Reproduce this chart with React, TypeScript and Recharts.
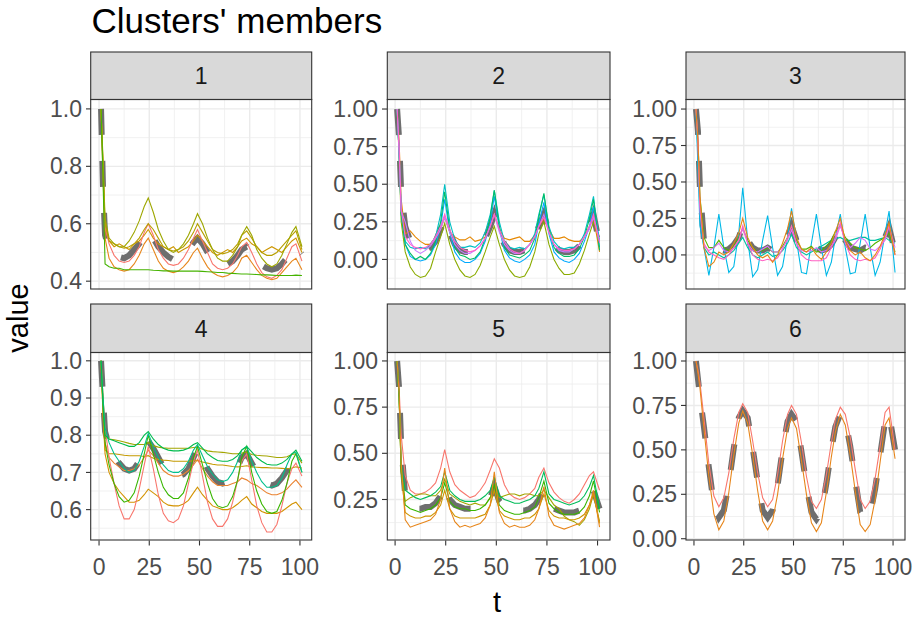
import { LineChart, Line, XAxis, YAxis, CartesianGrid } from 'recharts'

// time points shared by every series
const T = [
  1, 2, 3, 5, 7.5, 10,
  12.5, 15, 17.5, 20, 22.5, 24.5, 27, 29.5, 32, 34.5,
  37, 39.5, 42, 44.5, 47, 49, 51.5, 54, 56.5, 59,
  61.5, 64, 66.5, 69, 71, 73.5, 76, 78.5, 81, 83.5,
  86, 88.5, 91, 93.5, 96, 98, 101,
]

const X_TICKS = [0, 25, 50, 75, 100]
const X_MINOR = [12.5, 37.5, 62.5, 87.5]

// ---- cluster 1
const p1Center = [1.0, 0.72, 0.56, 0.51, 0.49, 0.485, 0.48, 0.49, 0.51, 0.53, 0.56, 0.575, 0.55, 0.52, 0.5, 0.485, 0.475, 0.48, 0.49, 0.51, 0.535, 0.55, 0.53, 0.5, 0.475, 0.46, 0.455, 0.46, 0.47, 0.49, 0.51, 0.52, 0.5, 0.475, 0.455, 0.445, 0.44, 0.445, 0.46, 0.48, 0.51, 0.52, 0.495]
const p1Green = [1.0, 0.75, 0.46, 0.45, 0.445, 0.445, 0.44, 0.44, 0.44, 0.44, 0.44, 0.44, 0.438, 0.437, 0.436, 0.436, 0.435, 0.435, 0.435, 0.435, 0.435, 0.435, 0.434, 0.433, 0.432, 0.43, 0.43, 0.428, 0.427, 0.426, 0.425, 0.425, 0.424, 0.423, 0.422, 0.422, 0.421, 0.42, 0.42, 0.42, 0.42, 0.421, 0.42]
const p1OliveHigh = [1.0, 0.82, 0.62, 0.55, 0.53, 0.52, 0.52, 0.54, 0.57, 0.61, 0.66, 0.69, 0.64, 0.58, 0.54, 0.51, 0.5, 0.51, 0.53, 0.56, 0.6, 0.635, 0.6, 0.55, 0.51, 0.48, 0.47, 0.47, 0.49, 0.52, 0.56, 0.59, 0.56, 0.51, 0.48, 0.46, 0.45, 0.46, 0.49, 0.53, 0.57, 0.59, 0.52]
const p1Olive = [1.0, 0.8, 0.6, 0.54, 0.53, 0.52, 0.515, 0.52, 0.53, 0.55, 0.58, 0.6, 0.58, 0.55, 0.52, 0.51, 0.505, 0.51, 0.52, 0.54, 0.57, 0.6, 0.57, 0.54, 0.51, 0.5, 0.495, 0.5, 0.51, 0.53, 0.56, 0.575, 0.55, 0.52, 0.5, 0.49, 0.49, 0.5, 0.52, 0.54, 0.56, 0.575, 0.51]
const p1Red = [1.0, 0.78, 0.59, 0.53, 0.49, 0.47, 0.465, 0.47, 0.49, 0.52, 0.57, 0.6, 0.56, 0.51, 0.48, 0.46, 0.455, 0.46, 0.48, 0.51, 0.55, 0.58, 0.54, 0.5, 0.46, 0.445, 0.44, 0.445, 0.46, 0.49, 0.52, 0.535, 0.5, 0.46, 0.43, 0.415, 0.41, 0.42, 0.44, 0.48, 0.52, 0.53, 0.47]
const p1Orange = [1.0, 0.76, 0.55, 0.48, 0.45, 0.44, 0.435, 0.44, 0.46, 0.49, 0.53, 0.55, 0.51, 0.47, 0.445, 0.435, 0.43, 0.435, 0.45, 0.47, 0.5, 0.515, 0.48, 0.45, 0.43, 0.42, 0.415, 0.42, 0.43, 0.45, 0.48, 0.49, 0.465, 0.44, 0.42, 0.41, 0.405, 0.41, 0.43, 0.45, 0.47, 0.48, 0.44]
const p1Gold = [1.0, 0.8, 0.58, 0.54, 0.52, 0.53, 0.52, 0.51, 0.53, 0.54, 0.56, 0.58, 0.55, 0.53, 0.52, 0.51, 0.52, 0.5, 0.51, 0.52, 0.54, 0.56, 0.54, 0.52, 0.5, 0.49, 0.5, 0.51, 0.5, 0.52, 0.54, 0.55, 0.53, 0.52, 0.5, 0.51, 0.52, 0.51, 0.5, 0.52, 0.54, 0.55, 0.5]

// ---- cluster 2
const p2Center = [1.0, 0.8, 0.45, 0.22, 0.12, 0.08, 0.06, 0.06, 0.08, 0.12, 0.2, 0.27, 0.18, 0.1, 0.06, 0.05, 0.05, 0.06, 0.09, 0.14, 0.22, 0.3, 0.18, 0.1, 0.06, 0.05, 0.05, 0.06, 0.09, 0.14, 0.22, 0.3, 0.18, 0.1, 0.06, 0.05, 0.05, 0.06, 0.09, 0.14, 0.22, 0.3, 0.1]
const p2Teal = [1.0, 0.7, 0.3, 0.12, 0.08, 0.07, 0.08, 0.07, 0.1, 0.15, 0.3, 0.5, 0.25, 0.13, 0.08, 0.08, 0.09, 0.08, 0.11, 0.18, 0.3, 0.46, 0.25, 0.12, 0.08, 0.07, 0.08, 0.07, 0.1, 0.17, 0.3, 0.43, 0.22, 0.12, 0.08, 0.07, 0.08, 0.08, 0.1, 0.17, 0.3, 0.42, 0.08]
const p2Blue = [1.0, 0.72, 0.35, 0.1, 0.02, 0.0, -0.01, 0.0, 0.03, 0.1, 0.22, 0.4, 0.18, 0.05, 0.0, -0.02, -0.02, 0.0, 0.04, 0.12, 0.24, 0.42, 0.2, 0.06, 0.01, -0.01, -0.02, 0.0, 0.03, 0.1, 0.24, 0.38, 0.17, 0.05, 0.01, -0.01, -0.02, 0.0, 0.04, 0.12, 0.22, 0.35, 0.13]
const p2Olive = [1.0, 0.68, 0.25, 0.05, -0.05, -0.1, -0.12, -0.11, -0.06, 0.05, 0.15, 0.24, 0.1, 0.0, -0.07, -0.11, -0.12, -0.1, -0.04, 0.05, 0.15, 0.22, 0.1, 0.0, -0.07, -0.11, -0.12, -0.11, -0.05, 0.05, 0.17, 0.25, 0.1, 0.0, -0.06, -0.1, -0.1, -0.09, -0.03, 0.06, 0.17, 0.25, 0.15]
const p2Orange = [1.0, 0.78, 0.4, 0.17, 0.19, 0.15, 0.12, 0.1, 0.1, 0.14, 0.2, 0.28, 0.18, 0.15, 0.13, 0.13, 0.15, 0.12, 0.13, 0.15, 0.22, 0.3, 0.2, 0.14, 0.13, 0.14, 0.15, 0.12, 0.12, 0.16, 0.22, 0.27, 0.2, 0.14, 0.14, 0.15, 0.13, 0.12, 0.12, 0.15, 0.22, 0.28, 0.05]
const p2Green = [1.0, 0.7, 0.3, 0.1, 0.04, 0.0, 0.02, 0.0, 0.04, 0.12, 0.25, 0.45, 0.2, 0.08, 0.03, 0.02, 0.0, 0.01, 0.05, 0.14, 0.28, 0.46, 0.22, 0.08, 0.03, 0.02, 0.01, 0.03, 0.06, 0.14, 0.28, 0.44, 0.2, 0.08, 0.04, 0.02, 0.02, 0.03, 0.07, 0.15, 0.27, 0.4, 0.06]
const p2Violet = [1.0, 0.7, 0.32, 0.25, 0.12, 0.06, 0.04, 0.06, 0.09, 0.14, 0.2, 0.28, 0.18, 0.1, 0.06, 0.04, 0.04, 0.06, 0.09, 0.14, 0.22, 0.3, 0.18, 0.1, 0.06, 0.04, 0.04, 0.06, 0.1, 0.15, 0.22, 0.3, 0.18, 0.1, 0.06, 0.05, 0.05, 0.07, 0.1, 0.15, 0.2, 0.28, 0.12]
const p2Pink = [1.0, 0.75, 0.33, 0.15, 0.1, 0.08, 0.07, 0.08, 0.1, 0.15, 0.22, 0.3, 0.2, 0.12, 0.08, 0.06, 0.05, 0.06, 0.09, 0.14, 0.22, 0.3, 0.2, 0.12, 0.07, 0.05, 0.04, 0.06, 0.1, 0.15, 0.22, 0.28, 0.18, 0.1, 0.07, 0.06, 0.06, 0.07, 0.1, 0.15, 0.22, 0.3, 0.11]

// ---- cluster 3
const p3Center = [1.0, 0.85, 0.45, 0.1, 0.05, 0.03, 0.04, 0.03, 0.04, 0.07, 0.12, 0.2, 0.1, 0.05, 0.03, 0.03, 0.05, 0.03, 0.03, 0.07, 0.12, 0.2, 0.1, 0.05, 0.03, 0.03, 0.05, 0.03, 0.04, 0.07, 0.12, 0.2, 0.1, 0.05, 0.04, 0.03, 0.05, 0.04, 0.04, 0.07, 0.12, 0.19, 0.02]
const p3Cyan = [1.0, 0.6, 0.2, 0.05, -0.14, 0.05, 0.28, 0.05, -0.12, -0.08, 0.15, 0.46, 0.1, -0.15, -0.1, 0.1, 0.27, 0.05, -0.14, -0.08, 0.12, 0.32, 0.1, -0.12, -0.13, 0.08, 0.28, 0.05, -0.14, -0.05, 0.12, 0.28, 0.05, -0.13, -0.12, 0.08, 0.28, 0.05, -0.14, -0.05, 0.15, 0.3, -0.12]
const p3Teal = [1.0, 0.7, 0.3, 0.05, 0.0, 0.02, 0.0, -0.02, 0.0, 0.03, 0.08, 0.12, 0.05, 0.0, -0.02, 0.0, 0.02, -0.01, 0.0, 0.03, 0.08, 0.14, 0.05, 0.02, 0.0, 0.02, 0.04, 0.06, 0.08, 0.1, 0.11, 0.12, 0.1, 0.1, 0.11, 0.12, 0.12, 0.1, 0.1, 0.11, 0.12, 0.1, 0.08]
const p3Green = [1.0, 0.8, 0.4, 0.12, 0.05, 0.05, 0.1, 0.05, 0.03, 0.06, 0.12, 0.18, 0.1, 0.05, 0.02, 0.03, 0.05, 0.02, 0.02, 0.06, 0.12, 0.2, 0.1, 0.04, 0.04, 0.06, 0.02, 0.03, 0.06, 0.1, 0.16, 0.2, 0.12, 0.08, 0.05, 0.04, 0.03, 0.05, 0.08, 0.1, 0.12, 0.15, 0.02]
const p3Violet = [1.0, 0.75, 0.3, 0.06, 0.03, 0.05, 0.08, 0.03, 0.02, 0.05, 0.1, 0.18, 0.08, 0.03, 0.02, 0.04, 0.06, 0.02, 0.02, 0.05, 0.1, 0.17, 0.08, 0.03, 0.02, 0.03, 0.05, 0.02, 0.03, 0.06, 0.1, 0.2, 0.1, 0.05, 0.08, 0.12, 0.1, 0.04, 0.03, 0.06, 0.1, 0.2, 0.05]
const p3Pink = [1.0, 0.8, 0.35, 0.08, 0.02, 0.0, -0.02, -0.03, 0.0, 0.05, 0.1, 0.2, 0.08, 0.0, -0.03, -0.04, -0.03, -0.04, -0.02, 0.04, 0.12, 0.2, 0.08, 0.0, -0.03, -0.04, -0.04, -0.04, -0.02, 0.05, 0.12, 0.22, 0.08, 0.0, -0.03, -0.04, -0.03, -0.04, -0.02, 0.04, 0.12, 0.2, 0.0]
const p3Orange = [1.0, 0.78, 0.4, 0.05, -0.08, -0.05, 0.02, 0.0, 0.02, 0.08, 0.15, 0.25, 0.12, 0.05, 0.0, -0.02, 0.0, -0.05, 0.0, 0.08, 0.18, 0.3, 0.12, 0.04, 0.02, 0.05, 0.0, -0.03, 0.02, 0.08, 0.16, 0.25, 0.1, 0.03, 0.0, 0.02, -0.02, -0.04, 0.0, 0.06, 0.14, 0.22, 0.0]

// ---- cluster 4
const p4Center = [1.0, 0.9, 0.81, 0.77, 0.745, 0.725, 0.71, 0.705, 0.71, 0.73, 0.76, 0.785, 0.765, 0.74, 0.715, 0.7, 0.69, 0.69, 0.695, 0.71, 0.74, 0.765, 0.74, 0.71, 0.69, 0.675, 0.67, 0.675, 0.69, 0.715, 0.74, 0.75, 0.725, 0.7, 0.68, 0.67, 0.665, 0.67, 0.685, 0.705, 0.73, 0.74, 0.72]
const p4Olive = [1.0, 0.9, 0.8, 0.79, 0.788, 0.785, 0.782, 0.778, 0.775, 0.775, 0.775, 0.78, 0.772, 0.768, 0.766, 0.765, 0.765, 0.765, 0.765, 0.765, 0.767, 0.768, 0.762, 0.758, 0.756, 0.755, 0.754, 0.752, 0.75, 0.75, 0.752, 0.755, 0.748, 0.746, 0.745, 0.744, 0.742, 0.74, 0.74, 0.742, 0.748, 0.75, 0.725]
const p4GoldFlat = [1.0, 0.86, 0.76, 0.75, 0.75, 0.748, 0.746, 0.745, 0.745, 0.745, 0.743, 0.745, 0.738, 0.735, 0.733, 0.732, 0.73, 0.73, 0.73, 0.73, 0.731, 0.732, 0.728, 0.725, 0.722, 0.72, 0.72, 0.718, 0.716, 0.715, 0.716, 0.718, 0.715, 0.714, 0.713, 0.713, 0.712, 0.712, 0.711, 0.71, 0.712, 0.715, 0.712]
const p4GoldLow = [1.0, 0.85, 0.75, 0.7, 0.67, 0.65, 0.635, 0.62, 0.62, 0.625, 0.64, 0.655, 0.645, 0.635, 0.62, 0.612, 0.61, 0.61, 0.615, 0.625, 0.645, 0.66, 0.64, 0.625, 0.61, 0.605, 0.6, 0.6, 0.605, 0.615, 0.625, 0.635, 0.615, 0.605, 0.595, 0.59, 0.59, 0.59, 0.595, 0.605, 0.615, 0.62, 0.6]
const p4Orange = [1.0, 0.88, 0.78, 0.74, 0.725, 0.715, 0.705, 0.705, 0.71, 0.72, 0.74, 0.76, 0.745, 0.725, 0.705, 0.695, 0.69, 0.69, 0.695, 0.705, 0.72, 0.735, 0.71, 0.69, 0.675, 0.665, 0.665, 0.665, 0.67, 0.675, 0.685, 0.68, 0.67, 0.665, 0.655, 0.645, 0.64, 0.64, 0.645, 0.655, 0.67, 0.68, 0.66]
const p4Red = [1.0, 0.9, 0.82, 0.74, 0.67, 0.61, 0.575, 0.575, 0.6, 0.655, 0.72, 0.77, 0.71, 0.64, 0.59, 0.57, 0.565, 0.575, 0.61, 0.67, 0.73, 0.76, 0.69, 0.62, 0.575, 0.555, 0.555, 0.575, 0.62, 0.68, 0.73, 0.75, 0.68, 0.61, 0.565, 0.54, 0.54, 0.56, 0.61, 0.67, 0.71, 0.725, 0.69]
const p4GreenDeep = [1.0, 0.88, 0.78, 0.72, 0.67, 0.635, 0.62, 0.625, 0.645, 0.69, 0.75, 0.8, 0.75, 0.7, 0.66, 0.64, 0.63, 0.63, 0.645, 0.685, 0.74, 0.77, 0.72, 0.67, 0.63, 0.61, 0.605, 0.61, 0.635, 0.68, 0.74, 0.77, 0.7, 0.65, 0.615, 0.595, 0.59, 0.595, 0.625, 0.67, 0.73, 0.75, 0.7]
const p4Teal = [1.0, 0.9, 0.82, 0.78, 0.75, 0.73, 0.71, 0.7, 0.705, 0.73, 0.77, 0.805, 0.77, 0.74, 0.72, 0.705, 0.7, 0.7, 0.71, 0.73, 0.76, 0.775, 0.745, 0.715, 0.695, 0.68, 0.675, 0.68, 0.7, 0.73, 0.76, 0.77, 0.73, 0.7, 0.675, 0.66, 0.66, 0.665, 0.685, 0.72, 0.75, 0.755, 0.7]
const p4Green = [1.0, 0.88, 0.8, 0.79, 0.785, 0.78, 0.775, 0.77, 0.77, 0.78, 0.8, 0.81, 0.79, 0.775, 0.765, 0.76, 0.758, 0.758, 0.76, 0.765, 0.775, 0.78, 0.765, 0.75, 0.74, 0.732, 0.73, 0.73, 0.735, 0.745, 0.76, 0.77, 0.755, 0.74, 0.73, 0.722, 0.72, 0.72, 0.725, 0.735, 0.75, 0.76, 0.73]

// ---- cluster 5
const p5Center = [1.0, 0.85, 0.55, 0.27, 0.22, 0.2, 0.2, 0.21, 0.21, 0.23, 0.27, 0.33, 0.25, 0.22, 0.21, 0.2, 0.2, 0.2, 0.21, 0.23, 0.26, 0.32, 0.24, 0.21, 0.2, 0.19, 0.19, 0.19, 0.2, 0.22, 0.25, 0.3, 0.23, 0.2, 0.19, 0.18, 0.18, 0.18, 0.19, 0.22, 0.26, 0.3, 0.2]
const p5Red = [1.0, 0.85, 0.6, 0.38, 0.3, 0.28, 0.28, 0.29, 0.31, 0.34, 0.42, 0.52, 0.4, 0.33, 0.3, 0.28, 0.26, 0.27, 0.3, 0.34, 0.41, 0.47, 0.42, 0.33, 0.28, 0.26, 0.25, 0.26, 0.28, 0.31, 0.37, 0.42, 0.34, 0.29, 0.26, 0.24, 0.23, 0.25, 0.28, 0.33, 0.38, 0.4, 0.3]
const p5Olive = [1.0, 0.8, 0.42, 0.24, 0.26, 0.27, 0.28, 0.28, 0.27, 0.27, 0.3, 0.36, 0.28, 0.26, 0.24, 0.23, 0.22, 0.23, 0.22, 0.22, 0.26, 0.33, 0.26, 0.27, 0.28, 0.28, 0.27, 0.28, 0.28, 0.27, 0.27, 0.3, 0.26, 0.22, 0.2, 0.16, 0.14, 0.13, 0.11, 0.14, 0.2, 0.28, 0.13]
const p5Gold = [1.0, 0.8, 0.4, 0.18, 0.16, 0.15, 0.15, 0.16, 0.16, 0.18, 0.22, 0.3, 0.2, 0.16, 0.15, 0.15, 0.15, 0.15, 0.16, 0.17, 0.22, 0.3, 0.19, 0.16, 0.15, 0.14, 0.14, 0.15, 0.15, 0.17, 0.2, 0.28, 0.19, 0.16, 0.15, 0.15, 0.14, 0.14, 0.15, 0.17, 0.22, 0.28, 0.12]
const p5Orange = [1.0, 0.82, 0.45, 0.14, 0.1, 0.11, 0.12, 0.13, 0.14, 0.17, 0.25, 0.42, 0.2, 0.13, 0.1, 0.11, 0.1, 0.11, 0.12, 0.15, 0.22, 0.4, 0.18, 0.12, 0.1, 0.11, 0.1, 0.1, 0.11, 0.14, 0.2, 0.32, 0.16, 0.11, 0.1, 0.09, 0.1, 0.11, 0.12, 0.15, 0.22, 0.3, 0.1]
const p5Green2 = [1.0, 0.8, 0.4, 0.22, 0.2, 0.19, 0.18, 0.19, 0.2, 0.22, 0.26, 0.34, 0.24, 0.21, 0.2, 0.2, 0.19, 0.19, 0.2, 0.22, 0.26, 0.33, 0.22, 0.19, 0.18, 0.17, 0.17, 0.18, 0.19, 0.21, 0.26, 0.35, 0.23, 0.2, 0.18, 0.17, 0.17, 0.17, 0.18, 0.21, 0.27, 0.35, 0.18]
const p5Green = [1.0, 0.8, 0.45, 0.3, 0.28, 0.26, 0.25, 0.26, 0.27, 0.29, 0.32, 0.4, 0.3, 0.27, 0.25, 0.24, 0.24, 0.24, 0.25, 0.27, 0.3, 0.37, 0.27, 0.25, 0.24, 0.23, 0.23, 0.24, 0.25, 0.27, 0.31, 0.4, 0.28, 0.25, 0.24, 0.23, 0.22, 0.23, 0.24, 0.27, 0.32, 0.38, 0.2]

// ---- cluster 6
const p6Center = [1.0, 0.9, 0.8, 0.63, 0.4, 0.19, 0.12, 0.16, 0.31, 0.51, 0.68, 0.72, 0.68, 0.51, 0.32, 0.16, 0.12, 0.16, 0.3, 0.5, 0.66, 0.7, 0.66, 0.49, 0.3, 0.15, 0.11, 0.15, 0.31, 0.5, 0.63, 0.7, 0.67, 0.52, 0.33, 0.15, 0.11, 0.14, 0.28, 0.47, 0.66, 0.7, 0.5]
const p6Red = [1.0, 0.95, 0.88, 0.68, 0.42, 0.24, 0.18, 0.23, 0.37, 0.56, 0.71, 0.76, 0.71, 0.55, 0.37, 0.23, 0.18, 0.22, 0.36, 0.55, 0.7, 0.75, 0.7, 0.54, 0.35, 0.21, 0.17, 0.22, 0.36, 0.54, 0.67, 0.74, 0.7, 0.57, 0.39, 0.22, 0.17, 0.21, 0.34, 0.52, 0.71, 0.74, 0.5]
const p6Orange = [1.0, 0.93, 0.85, 0.62, 0.35, 0.14, 0.05, 0.1, 0.26, 0.47, 0.65, 0.72, 0.65, 0.47, 0.27, 0.1, 0.05, 0.1, 0.25, 0.45, 0.62, 0.68, 0.62, 0.44, 0.25, 0.09, 0.04, 0.09, 0.26, 0.46, 0.6, 0.7, 0.64, 0.47, 0.27, 0.08, 0.04, 0.08, 0.22, 0.43, 0.64, 0.68, 0.45]

const FONT = '"Liberation Sans", Arial, Helvetica, sans-serif'
const CENTER_COLOR = '#6e6e6e'
const BORDER = '#333333'

// plot-area pixel boxes (ggplot facet layout)
const COLS = [
  { x0: 90.7, x1: 311.7 },
  { x0: 387.3, x1: 610 },
  { x0: 686, x1: 905 },
]
const ROWS = [
  { strip: 52, y0: 99.5, y1: 289 },
  { strip: 304, y0: 352.5, y1: 540 },
]
const X_DOMAIN: [number, number] = [-4, 106]

type Member = { values: number[]; color: string }
type PanelDef = {
  label: string
  col: number
  row: number
  center: number[]
  members: Member[]
  yDomain: [number, number]
  yTicks: number[]
  yMinor: number[]
  digits: number
}

const PANELS: PanelDef[] = [
  {
    label: '1', col: 0, row: 0, center: p1Center, digits: 1,
    yDomain: [0.371, 1.031], yTicks: [0.4, 0.6, 0.8, 1.0], yMinor: [0.5, 0.7, 0.9],
    members: [
      { values: p1Gold, color: '#CD9600' },
      { values: p1Orange, color: '#E7861B' },
      { values: p1Red, color: '#F8766D' },
      { values: p1Olive, color: '#B79F00' },
      { values: p1OliveHigh, color: '#9EA700' },
      { values: p1Green, color: '#45B300' },
    ],
  },
  {
    label: '2', col: 1, row: 0, center: p2Center, digits: 2,
    yDomain: [-0.2, 1.06], yTicks: [0, 0.25, 0.5, 0.75, 1.0], yMinor: [-0.125, 0.125, 0.375, 0.625, 0.875],
    members: [
      { values: p2Olive, color: '#8AAB00' },
      { values: p2Orange, color: '#E58700' },
      { values: p2Blue, color: '#00A9FF' },
      { values: p2Teal, color: '#00BFC4' },
      { values: p2Green, color: '#00BE67' },
      { values: p2Violet, color: '#C77CFF' },
      { values: p2Pink, color: '#FF61CC' },
    ],
  },
  {
    label: '3', col: 2, row: 0, center: p3Center, digits: 2,
    yDomain: [-0.237, 1.062], yTicks: [0, 0.25, 0.5, 0.75, 1.0], yMinor: [-0.125, 0.125, 0.375, 0.625, 0.875],
    members: [
      { values: p3Cyan, color: '#00B8E7' },
      { values: p3Teal, color: '#00C1A3' },
      { values: p3Green, color: '#53B400' },
      { values: p3Violet, color: '#DB72FB' },
      { values: p3Pink, color: '#FF61C3' },
      { values: p3Orange, color: '#E68613' },
    ],
  },
  {
    label: '4', col: 0, row: 1, center: p4Center, digits: 1,
    yDomain: [0.517, 1.021], yTicks: [0.6, 0.7, 0.8, 0.9, 1.0], yMinor: [0.55, 0.65, 0.75, 0.85, 0.95],
    members: [
      { values: p4Olive, color: '#A3A500' },
      { values: p4GoldFlat, color: '#C49A00' },
      { values: p4GoldLow, color: '#D39200' },
      { values: p4Orange, color: '#EA8331' },
      { values: p4Red, color: '#F8766D' },
      { values: p4GreenDeep, color: '#39B600' },
      { values: p4Teal, color: '#00C08B' },
      { values: p4Green, color: '#00BB4E' },
    ],
  },
  {
    label: '5', col: 1, row: 1, center: p5Center, digits: 2,
    yDomain: [0.028, 1.043], yTicks: [0.25, 0.5, 0.75, 1.0], yMinor: [0.125, 0.375, 0.625, 0.875],
    members: [
      { values: p5Red, color: '#F8766D' },
      { values: p5Olive, color: '#A3A500' },
      { values: p5Gold, color: '#CD9600' },
      { values: p5Green2, color: '#39B600' },
      { values: p5Green, color: '#00BC59' },
      { values: p5Orange, color: '#E7861B' },
    ],
  },
  {
    label: '6', col: 2, row: 1, center: p6Center, digits: 2,
    yDomain: [-0.01, 1.045], yTicks: [0, 0.25, 0.5, 0.75, 1.0], yMinor: [0.125, 0.375, 0.625, 0.875],
    members: [
      { values: p6Red, color: '#F8766D' },
      { values: p6Orange, color: '#E7861B' },
    ],
  },
]

const Y_AXIS_W = 90
const X_AXIS_H = 40
// extra room round each chart so edge labels are not clipped
const PAD_T = 14
const PAD_R = 26
const PAD_B = 14

function Panel({ p }: { p: PanelDef }) {
  const { x0, x1 } = COLS[p.col]
  const { y0, y1 } = ROWS[p.row]
  const bottom = p.row === 1
  const data = T.map((t, i) => {
    const r: Record<string, number> = { t, c: p.center[i] }
    p.members.forEach((m, j) => { r['m' + j] = m.values[i] })
    return r
  })
  const tickStyle = { fill: '#4D4D4D', fontSize: 23, fontFamily: FONT }
  const padB = bottom ? 0 : PAD_B

  return (
    <div style={{ position: 'absolute', left: x0 - Y_AXIS_W, top: y0 - PAD_T }}>
      <LineChart
        width={Y_AXIS_W + (x1 - x0) + PAD_R}
        height={PAD_T + (y1 - y0) + (bottom ? X_AXIS_H : padB)}
        data={data}
        margin={{ top: PAD_T, right: PAD_R, bottom: padB, left: 0 }}
      >
        <CartesianGrid stroke="#EBEBEB" strokeWidth={0.7} horizontalValues={p.yMinor} verticalValues={X_MINOR} />
        <CartesianGrid stroke="#EBEBEB" strokeWidth={1.4} horizontalValues={p.yTicks} verticalValues={X_TICKS} />
        <XAxis
          type="number"
          dataKey="t"
          domain={X_DOMAIN}
          ticks={X_TICKS}
          interval={0}
          allowDataOverflow
          hide={!bottom}
          height={X_AXIS_H}
          axisLine={false}
          tickLine={{ stroke: BORDER, strokeWidth: 1.1 }}
          tickSize={5}
          tickMargin={13}
          tick={tickStyle}
        />
        <YAxis
          type="number"
          domain={p.yDomain}
          ticks={p.yTicks}
          interval={0}
          allowDataOverflow
          width={Y_AXIS_W}
          axisLine={false}
          tickLine={{ stroke: BORDER, strokeWidth: 1.1 }}
          tickSize={5}
          tickMargin={4}
          tick={tickStyle}
          tickFormatter={(v: number) => v.toFixed(p.digits)}
        />
        <Line
          type="linear"
          dataKey="c"
          stroke={CENTER_COLOR}
          strokeWidth={6}
          strokeDasharray="26 26"
          dot={false}
          isAnimationActive={false}
        />
        {p.members.map((m, j) => (
          <Line
            key={j}
            type="linear"
            dataKey={'m' + j}
            stroke={m.color}
            strokeWidth={1.1}
            dot={false}
            isAnimationActive={false}
          />
        ))}
      </LineChart>
    </div>
  )
}

export default function App() {
  return (
    <div style={{ position: 'absolute', left: 0, top: 0, width: 914, height: 617, background: '#fff', fontFamily: FONT }}>
      {PANELS.map(p => <Panel key={p.label} p={p} />)}
      <svg width={914} height={617} style={{ position: 'absolute', left: 0, top: 0, pointerEvents: 'none' }}>
        <text x={91.5} y={33} fontSize={35} fill="#000" fontFamily={FONT}>Clusters' members</text>
        <text x={497} y={612} fontSize={29} fill="#000" fontFamily={FONT} textAnchor="middle">t</text>
        <text
          x={0} y={0} fontSize={29} fill="#000" fontFamily={FONT} textAnchor="middle"
          transform="translate(28,318) rotate(-90)"
        >value</text>
        {PANELS.map(p => {
          const { x0, x1 } = COLS[p.col]
          const { strip, y0, y1 } = ROWS[p.row]
          return (
            <g key={p.label}>
              <rect x={x0} y={strip} width={x1 - x0} height={y0 - strip} fill="#D9D9D9" stroke={BORDER} strokeWidth={1.1} />
              <text x={(x0 + x1) / 2} y={(strip + y0) / 2} dy="0.36em" fontSize={23} fill="#1A1A1A" fontFamily={FONT} textAnchor="middle">{p.label}</text>
              <rect x={x0} y={y0} width={x1 - x0} height={y1 - y0} fill="none" stroke={BORDER} strokeWidth={1.1} />
            </g>
          )
        })}
      </svg>
    </div>
  )
}
